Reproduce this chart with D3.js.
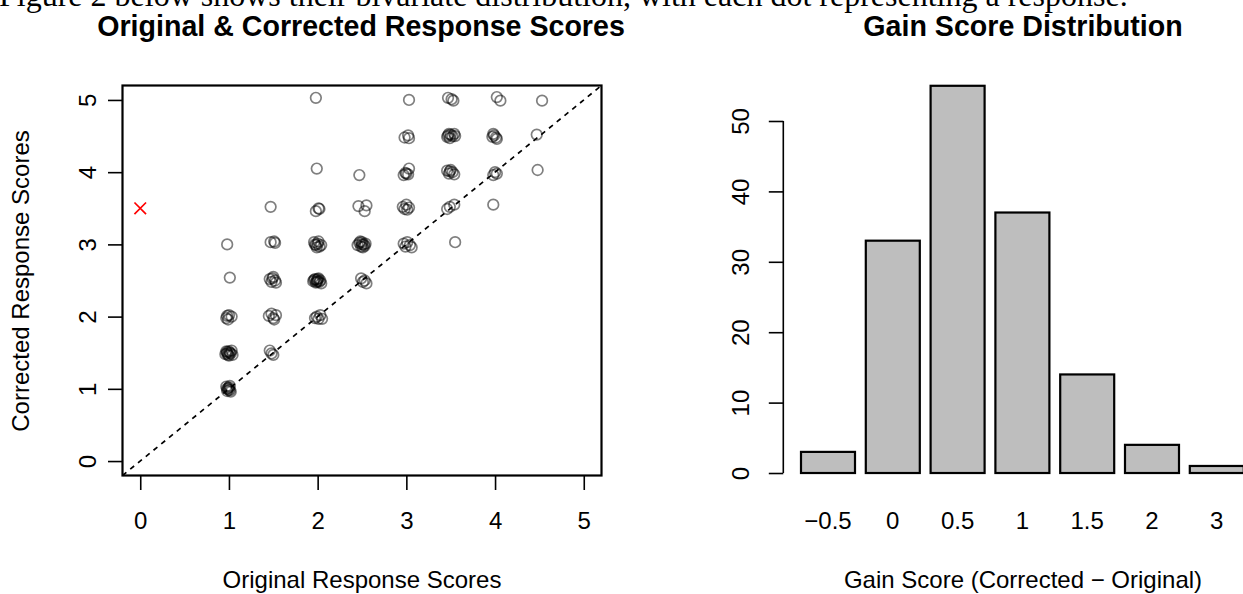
<!DOCTYPE html>
<html><head><meta charset="utf-8">
<script src="https://cdn.jsdelivr.net/npm/d3@7"></script>
<style>
html,body{margin:0;padding:0;background:#fff;overflow:hidden}
svg{display:block;font-family:"Liberation Sans",Arial,Helvetica,sans-serif}
</style></head>
<body>
<svg id="chart" width="1243" height="594"></svg>
<script>
// ---- data ----
const origScores = [
 1.98,
 3.03,1.99,1.47,0.98,
 3.47,3.51,3.53, 2.98,3.02,3.03, 2.47, 1.98,2.01,2.02, 1.47,1.51,1.52, 1.01,
 4.02,4.06, 3.46,3.48,3.50,3.52,3.54,3.49,3.47,3.55, 2.97,3.00,3.02,3.03,2.99, 2.46,2.53,2.55,
 1.96,1.98,2.00,2.02,2.04,1.99,2.01,1.97, 1.46,1.48,1.50,1.52,1.53,1.49, 0.97,0.99,1.00,1.03,0.98,
 4.53, 3.97,3.99,4.01,4.02,3.98, 3.46,3.48,3.50,3.52,3.54,3.49, 2.96,2.98,3.00,3.01,3.03,
 2.45,2.47,2.49,2.50,2.52,2.53,2.48,2.51,2.54,2.50,
 1.95,1.97,1.98,1.99,2.00,2.01,2.02,2.03,1.96,2.04,1.99,2.00,
 1.45,1.48,1.50,1.53,1.51,
 0.96,0.98,1.00,1.01,1.03,0.99,1.02,0.97,1.04,1.00,0.98,
 4.47, 3.98,4.00,4.02, 3.46,3.49,3.54, 2.97,2.99,3.01,3.04,3.06, 2.49,2.51,2.53,2.55,
 1.97,1.99,2.01,2.03,2.05, 1.46,1.48,1.50,
 0.97,0.98,0.99,1.00,1.01,1.02,0.98,1.00,1.01,
 3.98,3.55,4.48
];
const correctedScores = [
 5.03,
 5.00,4.05,3.52,3.00,
 5.03,5.01,4.99, 4.48,4.51,4.47, 3.96, 3.46,3.50,3.49, 3.03,3.04,3.02, 2.54,
 5.04,4.99, 4.49,4.53,4.52,4.50,4.53,4.47,4.51,4.50, 3.96,3.98,3.97,4.05,3.99, 3.53,3.46,3.54,
 3.03,2.99,3.01,2.97,2.99,2.96,3.04,3.00, 2.52,2.48,2.55,2.50,2.47,2.53, 1.98,1.96,2.02,2.00,2.01,
 4.99, 4.49,4.51,4.48,4.46,4.53, 4.02,3.98,4.03,4.00,3.97,4.01, 3.52,3.49,3.55,3.48,3.51,
 2.99,3.02,2.97,3.03,3.00,2.98,3.04,2.96,3.01,3.00,
 2.49,2.52,2.47,2.51,2.49,2.53,2.48,2.50,2.51,2.46,2.48,2.52,
 2.01,2.04,1.98,2.02,1.96,
 1.48,1.51,1.46,1.50,1.53,1.47,1.49,1.52,1.47,1.52,1.49,
 4.52, 3.96,4.00,3.98, 3.49,3.52,3.55, 3.01,2.97,3.03,2.99,2.96, 2.53,2.48,2.50,2.46,
 1.98,2.00,1.97,2.02,1.97, 1.53,1.49,1.47,
 1.03,0.97,1.01,0.99,1.04,0.96,1.00,1.02,0.98,
 3.55,3.03,4.03
];
const outlierPoint = [0, 3.5];
const scatterTicks = [0, 1, 2, 3, 4, 5];

const gainLabels = ["\u22120.5", "0", "0.5", "1", "1.5", "2", "3"];
const gainCounts = [3, 33, 55, 37, 14, 4, 1];
const countTicks = [0, 10, 20, 30, 40, 50];

const svg = d3.select("#chart");
const FS = 24;

// cropped caption text at very top (cut off in the reference as well)
svg.append("text").attr("x", -1).attr("y", 6)
  .attr("font-family", "'Liberation Serif','Times New Roman',serif")
  .attr("font-size", 32).attr("fill", "#000")
  .text("Figure 2 below shows their bivariate distribution, with each dot representing a response.");

// ---------- scatter ----------
const sx = d3.scaleLinear().domain([-0.2, 5.2]).range([122.5, 601.5]);
const sy = d3.scaleLinear().domain([-0.2, 5.2]).range([475.5, 85.5]);

svg.append("text").attr("x", 361).attr("y", 36).attr("text-anchor", "middle")
  .attr("font-weight", "bold").attr("font-size", 28.6).text("Original & Corrected Response Scores");

const gx = svg.append("g").attr("transform", `translate(0,${sy.range()[0]})`)
  .call(d3.axisBottom(sx).tickValues(scatterTicks).tickSize(14.5).tickFormat(d3.format("d")));
gx.select(".domain").remove();
gx.selectAll("line").attr("stroke", "#000").attr("stroke-width", 1.6);
gx.selectAll("text").attr("font-size", FS).attr("fill", "#000").attr("dy", null).attr("y", 53.5)
  .attr("font-family", "'Liberation Sans',Arial,sans-serif");

const gy = svg.append("g").attr("transform", `translate(${sx.range()[0]},0)`)
  .call(d3.axisLeft(sy).tickValues(scatterTicks).tickSize(14.5).tickFormat(d3.format("d")));
gy.select(".domain").remove();
gy.selectAll("line").attr("stroke", "#000").attr("stroke-width", 1.6);
gy.selectAll("text").attr("font-size", FS).attr("fill", "#000").attr("dy", null).attr("x", null)
  .attr("text-anchor", "middle").attr("transform", "translate(-27,0) rotate(-90)")
  .attr("font-family", "'Liberation Sans',Arial,sans-serif");

// diagonal reference line y = x
svg.append("line")
  .attr("x1", sx(-0.2)).attr("y1", sy(-0.2)).attr("x2", sx(5.2)).attr("y2", sy(5.2))
  .attr("stroke", "#000").attr("stroke-width", 1.7).attr("stroke-dasharray", "5,5");

svg.append("g").selectAll("circle").data(origScores.map((o, i) => [o, correctedScores[i]]))
  .join("circle")
  .attr("cx", d => sx(d[0])).attr("cy", d => sy(d[1])).attr("r", 5.3)
  .attr("fill", "none").attr("stroke", "#000").attr("stroke-opacity", 0.5).attr("stroke-width", 1.7);

const ox = sx(outlierPoint[0]), oy = sy(outlierPoint[1]), oh = 5.8;
svg.append("path").attr("d", `M${ox-oh},${oy-oh}L${ox+oh},${oy+oh}M${ox-oh},${oy+oh}L${ox+oh},${oy-oh}`)
  .attr("stroke", "#ff0000").attr("stroke-width", 1.7).attr("fill", "none");

svg.append("rect").attr("x", sx.range()[0]).attr("y", sy.range()[1])
  .attr("width", sx.range()[1] - sx.range()[0]).attr("height", sy.range()[0] - sy.range()[1])
  .attr("fill", "none").attr("stroke", "#000").attr("stroke-width", 2.2);

svg.append("text").attr("x", 362).attr("y", 588).attr("text-anchor", "middle")
  .attr("font-size", FS).text("Original Response Scores");
svg.append("text").attr("transform", "translate(29,281) rotate(-90)").attr("text-anchor", "middle")
  .attr("font-size", FS).text("Corrected Response Scores");

// ---------- bar chart ----------
svg.append("text").attr("x", 1023).attr("y", 36).attr("text-anchor", "middle")
  .attr("font-weight", "bold").attr("font-size", 28.6).text("Gain Score Distribution");

const bx = d3.scaleBand().domain(gainLabels).range([790.2, 1254.6]).paddingInner(1/6).paddingOuter(1/6);
const by = d3.scaleLinear().domain([-2.2, 57.2]).range([488.5, 70.3]);

const bay = svg.append("g").attr("transform", "translate(783.3,0)")
  .call(d3.axisLeft(by).tickValues(countTicks).tickSize(14.5).tickFormat(d3.format("d")));
bay.select(".domain").attr("d", `M0,${by(0)}V${by(50)}`).attr("stroke", "#000").attr("stroke-width", 1.6);
bay.selectAll("line").attr("stroke", "#000").attr("stroke-width", 1.6);
bay.selectAll("text").attr("font-size", FS).attr("fill", "#000").attr("dy", null).attr("x", null)
  .attr("text-anchor", "middle").attr("transform", "translate(-34,0) rotate(-90)")
  .attr("font-family", "'Liberation Sans',Arial,sans-serif");

svg.append("g").selectAll("rect").data(gainCounts).join("rect")
  .attr("x", (d, i) => bx(gainLabels[i])).attr("width", bx.bandwidth())
  .attr("y", d => by(d)).attr("height", d => by(0) - by(d))
  .attr("fill", "#bebebe").attr("stroke", "#000").attr("stroke-width", 2.2);

svg.append("g").selectAll("text").data(gainLabels).join("text")
  .attr("x", d => bx(d) + bx.bandwidth() / 2).attr("y", 529).attr("text-anchor", "middle")
  .attr("font-size", FS).text(d => d);

svg.append("text").attr("x", 1023).attr("y", 588).attr("text-anchor", "middle")
  .attr("font-size", FS).text("Gain Score (Corrected \u2212 Original)");
</script>
</body></html>
